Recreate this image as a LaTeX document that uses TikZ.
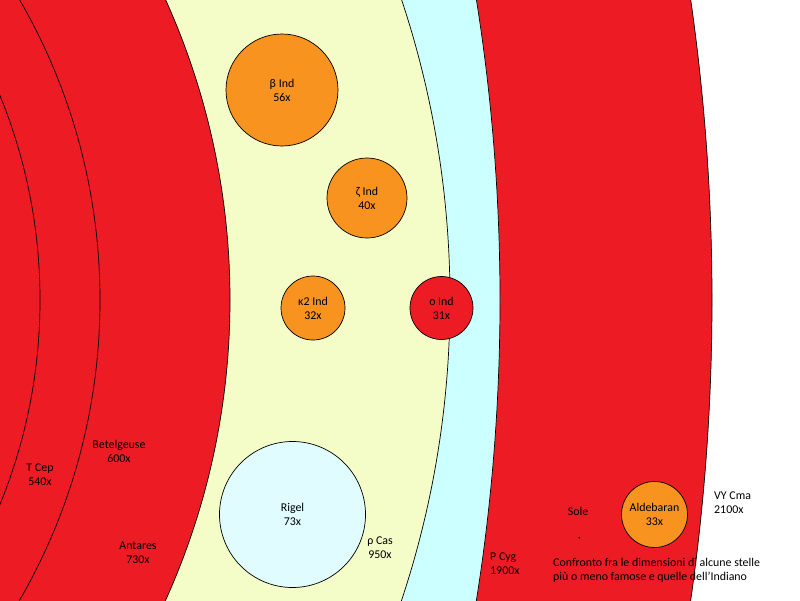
\documentclass[tikz,border=0pt]{standalone}
\usepackage{fontspec}
\setmainfont{Carlito}
\definecolor{sred}{RGB}{237,28,36}
\definecolor{sorange}{RGB}{247,147,30}
\definecolor{syellow}{RGB}{244,253,200}
\definecolor{scyan}{RGB}{204,255,255}
\definecolor{srigel}{RGB}{224,252,255}
\begin{document}
\begin{tikzpicture}[x=1pt,y=-1pt,
  ring/.style={draw=black, line width=0.7pt},
  star/.style={circle, draw=black, line width=0.7pt, inner sep=0pt, align=center,
    font=\fontsize{11.9}{14}\selectfont},
  lbl/.style={align=center, inner sep=0pt, font=\fontsize{11.9}{14}\selectfont},
  lbll/.style={align=left, anchor=west, inner sep=0pt, font=\fontsize{11.9}{14}\selectfont}]
\useasboundingbox (0,0) rectangle (800,600);
\begin{scope}
\clip (0,0) rectangle (800,600);
\fill[white] (0,0) rectangle (800,600);
\draw[ring, fill=sred] (-1388,300) circle[radius=2100pt];
\draw[ring, fill=scyan] (-1400,300) circle[radius=1900pt];
\draw[ring, fill=syellow] (-500,300) circle[radius=950pt];
\draw[ring, fill=sred] (-500,300) circle[radius=730pt];
\draw[ring, fill=sred] (-500,300) circle[radius=600pt];
\draw[ring, fill=sred] (-500,300) circle[radius=540pt];
\end{scope}
\node[star, fill=sorange, minimum size=112pt] (beta) at (282,90) {β Ind\\56x};
\node[star, fill=sorange, minimum size=80pt] (zeta) at (367,198) {ζ Ind\\40x};
\node[star, fill=sorange, minimum size=64pt] (kappa) at (313,308) {κ2 Ind\\32x};
\node[star, fill=sred, minimum size=63pt] (omicron) at (441.5,308) {ο Ind\\31x};
\node[star, fill=srigel, minimum size=146pt] (rigel) at (292.5,514.5) {Rigel\\73x};
\node[star, fill=sorange, minimum size=66pt] (aldebaran) at (654.5,514.5) {Aldebaran\\33x};
\node[circle, fill=black, inner sep=0pt, minimum size=1.8pt] (sun) at (579.3,537.7) {};
\node[lbl] (sole) at (578,511) {Sole};
\node[lbl] (tcep) at (40,475) {T Cep\\540x};
\node[lbl] (betel) at (119,451) {Betelgeuse\\600x};
\node[lbl] (antares) at (138,553) {Antares\\730x};
\node[lbl] (rhocas) at (380,548) {ρ Cas\\950x};
\node[lbll] (pcyg) at (490,564) {P Cyg\\1900x};
\node[lbll] (vycma) at (714,503) {VY Cma\\2100x};
\node[lbll] (caption) at (553,570.5) {Confronto fra le dimensioni di alcune stelle\\più o meno famose e quelle dell’Indiano};
\end{tikzpicture}
\end{document}
